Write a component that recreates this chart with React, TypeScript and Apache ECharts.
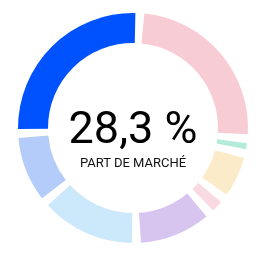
import React, { useEffect, useRef } from "react";
import * as echarts from "echarts";

const categories = ["Bleu", "Rose", "Menthe", "Jaune", "Rose clair", "Lavande", "Bleu ciel", "Pervenche"];
const shares = [28.3, 27.0, 0.9, 6.3, 1.8, 11.0, 14.6, 10.1];
const colors = ["#0052ff", "#f8ccd5", "#b3ead9", "#fbebc8", "#f9dae2", "#d7c5f0", "#cce9fc", "#b3ccfa"];
const centerValue = "28,3 %";
const centerLabel = "PART DE MARCHÉ";

const GAP_DEG = 4.5;

export default function App() {
  const ref = useRef<HTMLDivElement>(null);
  useEffect(() => {
    if (!ref.current) return;
    const chart = echarts.init(ref.current, null, { renderer: "svg" });
    const total = shares.reduce((a, b) => a + b, 0);
    const n = shares.length;
    // gap value so that each gap spans GAP_DEG degrees
    const gap = (GAP_DEG * total) / (360 - n * GAP_DEG);
    const data: any[] = [];
    shares.forEach((v, i) => {
      data.push({ name: categories[i], value: v, itemStyle: { color: colors[i] } });
      data.push({
        name: "gap" + i,
        value: gap,
        itemStyle: { color: "rgba(0,0,0,0)" },
        emphasis: { disabled: true },
        tooltip: { show: false },
      });
    });
    chart.setOption({
      animation: false,
      series: [
        {
          type: "pie",
          center: [133, 128],
          radius: [85, 115],
          startAngle: 180.5,
          clockwise: true,
          avoidLabelOverlap: false,
          label: { show: false },
          labelLine: { show: false },
          data,
        },
      ],
      graphic: [
        {
          type: "text",
          x: 133,
          y: 127,
          style: {
            text: centerValue,
            fontFamily: "Roboto",
            fontSize: 45,
            fill: "#000",
            align: "center",
            verticalAlign: "middle",
          },
        },
        {
          type: "text",
          x: 133,
          y: 162.5,
          style: {
            text: centerLabel,
            fontFamily: "Roboto",
            fontSize: 13,
            fill: "#111",
            align: "center",
            verticalAlign: "middle",
          },
        },
      ],
    });
    return () => chart.dispose();
  }, []);
  return (
    <div
      ref={ref}
      style={{ position: "fixed", left: 0, top: 0, width: 271, height: 256 }}
    />
  );
}
